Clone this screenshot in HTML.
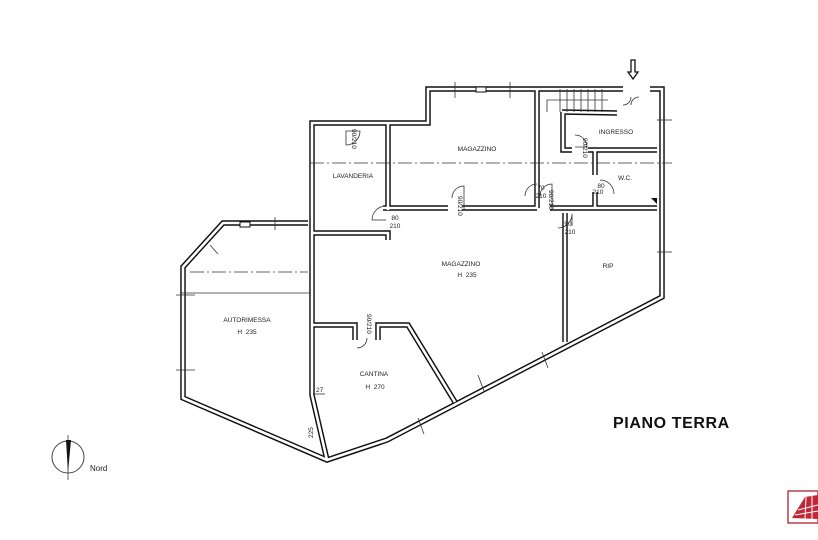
<!DOCTYPE html>
<html><head><meta charset="utf-8"><style>
html,body{margin:0;padding:0;background:#fff}
svg{display:block}
text{font-family:"Liberation Sans",sans-serif;fill:#222}
</style></head><body>
<svg width="818" height="540" viewBox="0 0 818 540" xmlns="http://www.w3.org/2000/svg">
<defs>
<g id="walls" fill="none" stroke-linejoin="miter">
<polyline points="650,89 662,89 662,297 387,440 327,460 183,398 183,267 223,223 308,223"/>
<polyline points="623,89 537,89"/>
<polyline points="537,89 428,89 428,123 312,123 312,395 327,460"/>
<polyline points="537,89 537,208"/>
<polyline points="383,208 448,208"/>
<polyline points="462,208 537,208"/>
<polyline points="550,208 657,208"/>
<polyline points="388,123 388,210"/>
<polyline points="313,233 388,233 388,240"/>
<polyline points="565,213 565,342"/>
<polyline points="313,325 355,325 355,340"/>
<polyline points="378,340 378,325 408,325 455,402"/>
<polyline points="562,112 617,113"/>
<polyline points="563,112 563,150 572,150"/>
<polyline points="588,150 657,150"/>
<polyline points="595,150 595,175"/>
<polyline points="595,192 595,208"/>
</g>
</defs>
<use href="#walls" stroke="#111" stroke-width="5.5"/>
<use href="#walls" stroke="#fff" stroke-width="2.6"/>
<g stroke="#333" stroke-width="0.8" fill="none">
<line x1="310" y1="163" x2="672" y2="163" stroke-dasharray="14 3 2 3"/>
<line x1="190" y1="272" x2="308" y2="272" stroke-dasharray="14 3 2 3"/>
<line x1="180" y1="293" x2="310" y2="293"/>
<path d="M372,220 A14,14 0 0 1 386,206"/><line x1="372" y1="220" x2="386" y2="220"/>
<path d="M452,198 A12,12 0 0 1 464,186 L464,210"/>
<path d="M525,196 A12,12 0 0 1 537,184"/>
<path d="M540,196 A12,12 0 0 1 552,184 L552,210"/>
<path d="M558,228 A14,14 0 0 0 572,214 L572,226"/>
<path d="M614,194 A14,14 0 0 0 600,180"/>
<path d="M346,145 A14,14 0 0 0 360,131 L346,131 Z"/>
<path d="M575,135 A12,12 0 0 1 587,147 L575,147"/>
<path d="M357,348 A10,10 0 0 0 367,338"/>
<path d="M623,105 A8,8 0 0 0 631,97 M631,105 A8,8 0 0 1 639,97"/>
<polyline points="547,112 547,100 600,100 608,100"/>
<line x1="560" y1="89" x2="560" y2="112"/><line x1="567" y1="89" x2="567" y2="112"/><line x1="574" y1="89" x2="574" y2="112"/><line x1="581" y1="89" x2="581" y2="112"/><line x1="588" y1="89" x2="588" y2="112"/><line x1="595" y1="89" x2="595" y2="112"/><line x1="602" y1="89" x2="602" y2="112"/>
<line x1="455" y1="82" x2="455" y2="98"/><line x1="510" y1="82" x2="510" y2="98"/>
<line x1="657" y1="120" x2="672" y2="120"/><line x1="657" y1="252" x2="672" y2="252"/>
<line x1="176" y1="295" x2="195" y2="295"/><line x1="176" y1="370" x2="195" y2="370"/>
<line x1="275" y1="217" x2="275" y2="230"/><line x1="210" y1="245" x2="218" y2="254"/>
<line x1="542" y1="352" x2="548" y2="368"/><line x1="478" y1="375" x2="484" y2="391"/><line x1="418" y1="418" x2="424" y2="434"/>
<line x1="313" y1="394" x2="325" y2="394"/>
</g>
<path d="M651,198 l6,0 l0,6 z" fill="#111"/>
<rect x="240" y="222" width="10" height="5" fill="#fff" stroke="#111" stroke-width="1"/>
<rect x="476" y="87" width="10" height="5" fill="#fff" stroke="#111" stroke-width="1"/>
<path d="M631,60 l4,0 l0,12 l3,0 l-5,7 l-5,-7 l3,0 z" fill="#fff" stroke="#111" stroke-width="1.3"/>
<g font-size="6.5">
<text x="353" y="178" text-anchor="middle">LAVANDERIA</text>
<text x="477" y="151" text-anchor="middle">MAGAZZINO</text>
<text x="616" y="134" text-anchor="middle">INGRESSO</text>
<text x="625" y="180" text-anchor="middle">W.C.</text>
<text x="461" y="266" text-anchor="middle">MAGAZZINO</text>
<text x="467" y="277" text-anchor="middle">H&#160;&#160;235</text>
<text x="608" y="268" text-anchor="middle">RIP</text>
<text x="247" y="322" text-anchor="middle">AUTORIMESSA</text>
<text x="247" y="334" text-anchor="middle">H&#160;&#160;235</text>
<text x="374" y="376" text-anchor="middle">CANTINA</text>
<text x="375" y="389" text-anchor="middle">H&#160;&#160;270</text>
<text x="395" y="220" text-anchor="middle">80</text><text x="395" y="228" text-anchor="middle">210</text>
<text x="568" y="226" text-anchor="middle">90</text><text x="570" y="234" text-anchor="middle">210</text>
<text x="601" y="188" text-anchor="middle">80</text><text x="598" y="194" text-anchor="middle">210</text>
<text x="541" y="190" text-anchor="middle">70</text><text x="541" y="198" text-anchor="middle">210</text>
<text x="316" y="392">27</text>
<text transform="translate(313,438) rotate(-90)">225</text>
<text transform="translate(352,129) rotate(90)">90/210</text>
<text transform="translate(458,196) rotate(90)">90/210</text>
<text transform="translate(549,190) rotate(90)">90/210</text>
<text transform="translate(583,138) rotate(90)">90/210</text>
<text transform="translate(367,314) rotate(90)">90/210</text>
</g>
<text x="613" y="428" font-size="16" font-weight="bold" letter-spacing="0.6" style="fill:#111">PIANO TERRA</text>
<circle cx="68" cy="457" r="16" fill="none" stroke="#444" stroke-width="1"/>
<line x1="68" y1="435" x2="68" y2="480" stroke="#444" stroke-width="0.8"/>
<path d="M66,440 L71,440 L68,472 Z" fill="#111"/>
<text x="90" y="471" font-size="8">Nord</text>
<rect x="788" y="491" width="30" height="32" fill="none" stroke="#b32030" stroke-width="1.3"/>
<path d="M792,518 L805,497 L818,495 L818,519 Z" fill="#c0283a"/>
<g stroke="#fff" stroke-width="1"><line x1="798" y1="510" x2="818" y2="505"/><line x1="795" y1="515" x2="818" y2="511"/><line x1="806" y1="497" x2="805" y2="519"/><line x1="812" y1="496" x2="812" y2="519"/></g>
</svg>
</body></html>
